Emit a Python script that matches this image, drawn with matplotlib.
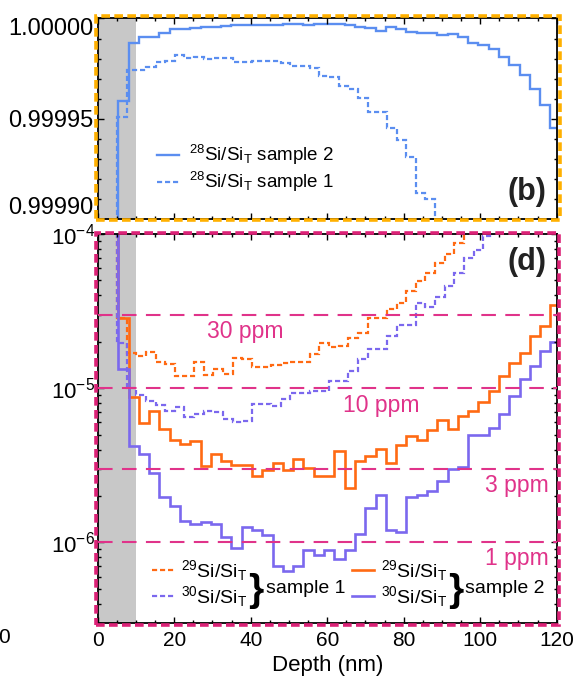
import numpy as np
import matplotlib
matplotlib.use("Agg")
import matplotlib.pyplot as plt
import matplotlib.ticker as mticker
from matplotlib.patches import Rectangle

plt.rcParams['font.family'] = ['Liberation Sans', 'DejaVu Sans']
plt.rcParams['mathtext.fontset'] = 'custom'
plt.rcParams['mathtext.rm'] = 'Liberation Sans'
plt.rcParams['mathtext.it'] = 'Liberation Sans:italic'
plt.rcParams['mathtext.bf'] = 'Liberation Sans:bold'

# depth bin widths of the two profiles (nm)
BIN_S1 = 2.52
BIN_S2 = 2.69
SURFACE_END = 10  # nm, surface transient region

# 28Si fraction (panel b)
si28_s2 = [0.99980, 0.99980, 0.999959, 0.9999877, 0.9999906, 0.9999906, 0.9999929,
           0.9999946, 0.9999946, 0.999995, 0.9999956, 0.9999958, 0.999996, 0.9999965,
           0.9999966, 0.9999968, 0.9999966, 0.9999968, 0.999997, 0.999997, 0.9999968,
           0.999997, 0.999997, 0.9999973, 0.9999968, 0.9999956, 0.9999951, 0.9999939,
           0.9999959, 0.9999946, 0.9999934, 0.9999929, 0.9999926, 0.9999918, 0.9999921,
           0.9999906, 0.999988, 0.9999868, 0.9999847, 0.9999807, 0.9999769, 0.9999719,
           0.9999648, 0.999957, 0.9999454]
si28_s1 = [0.99980, 0.99980, 0.999951, 0.9999745, 0.9999744, 0.999976, 0.9999785,
           0.999979, 0.9999818, 0.9999802, 0.9999808, 0.99998, 0.9999802, 0.9999802,
           0.9999785, 0.9999785, 0.999979, 0.999979, 0.999979, 0.9999777, 0.9999765,
           0.9999765, 0.9999755, 0.9999714, 0.9999707, 0.9999664, 0.9999648, 0.9999603,
           0.9999536, 0.9999536, 0.9999454, 0.9999396, 0.9999312, 0.9999133, 0.99991,
           0.9998, 0.9998, 0.9998, 0.9998, 0.9998, 0.9998, 0.9998, 0.9998, 0.9998,
           0.9998, 0.9998, 0.9998, 0.9998]

# 29Si and 30Si fractions (panel d)
si29_s1 = [2e-4, 2e-4, 2.87e-5, 1.68e-5, 1.62e-5, 1.71e-5, 1.47e-5, 1.43e-5, 1.2e-5,
           1.2e-5, 1.47e-5, 1.22e-5, 1.34e-5, 1.24e-5, 1.58e-5, 1.55e-5, 1.37e-5,
           1.37e-5, 1.41e-5, 1.45e-5, 1.47e-5, 1.47e-5, 1.66e-5, 1.97e-5, 1.85e-5,
           1.88e-5, 2.12e-5, 2.28e-5, 2.87e-5, 2.87e-5, 3.28e-5, 3.57e-5, 4.25e-5,
           4.98e-5, 5.57e-5, 6.47e-5, 7.43e-5, 8.7e-5, 2e-4, 2e-4, 2e-4, 2e-4, 2e-4,
           2e-4, 2e-4, 2e-4, 2e-4, 2e-4]
si30_s1 = [2e-4, 2e-4, 1.97e-5, 1.0e-5, 9.1e-6, 8.3e-6, 7.8e-6, 7.15e-6, 7.5e-6,
           6.5e-6, 6.8e-6, 7.1e-6, 7.0e-6, 6.3e-6, 6.0e-6, 6.1e-6, 7.9e-6, 7.9e-6,
           7.7e-6, 8.5e-6, 9.3e-6, 9.3e-6, 9.6e-6, 9.6e-6, 1.11e-5, 1.11e-5, 1.29e-5,
           1.54e-5, 1.79e-5, 1.79e-5, 2.18e-5, 2.59e-5, 2.59e-5, 3.57e-5, 3.37e-5,
           3.89e-5, 4.62e-5, 5.56e-5, 6.97e-5, 7.88e-5, 9.7e-5, 2e-4, 2e-4, 2e-4,
           2e-4, 2e-4, 2e-4, 2e-4]
si29_s2 = [2e-4, 2e-4, 2.86e-5, 8.8e-6, 5.94e-6, 7.15e-6, 5.43e-6, 4.62e-6, 4.36e-6,
           4.57e-6, 3.13e-6, 3.75e-6, 3.36e-6, 3.2e-6, 3.2e-6, 2.69e-6, 2.93e-6,
           3.27e-6, 2.93e-6, 3.5e-6, 3.03e-6, 2.69e-6, 2.69e-6, 3.94e-6, 2.26e-6,
           3.36e-6, 3.66e-6, 4.04e-6, 3.27e-6, 4.31e-6, 4.92e-6, 4.62e-6, 5.36e-6,
           6.2e-6, 5.45e-6, 6.62e-6, 7.15e-6, 8.1e-6, 9.62e-6, 1.2e-5, 1.45e-5,
           1.7e-5, 2.17e-5, 2.52e-5, 3.46e-5]
si30_s2 = [2e-4, 2e-4, 1.33e-5, 4.25e-6, 3.75e-6, 2.82e-6, 1.97e-6, 1.72e-6, 1.37e-6,
           1.31e-6, 1.36e-6, 1.31e-6, 1.09e-6, 9.25e-7, 1.26e-6, 1.21e-6, 1.11e-6,
           7.03e-7, 6.53e-7, 7.03e-7, 8.9e-7, 8.28e-7, 8.9e-7, 7.76e-7, 8.9e-7,
           1.14e-6, 1.67e-6, 2.04e-6, 1.21e-6, 1.16e-6, 1.97e-6, 2.04e-6, 2.14e-6,
           2.52e-6, 3.0e-6, 3.07e-6, 5.0e-6, 5.0e-6, 5.5e-6, 6.79e-6, 8.91e-6,
           1.14e-5, 1.39e-5, 1.74e-5, 1.99e-5]

ppm_levels = [30, 10, 3, 1]
ppm_labels = ["30 ppm", "10 ppm", "3 ppm", "1 ppm"]

BLUE = '#5b8ef0'
ORANGE = '#ff6a13'
PURPLE = '#7b68ee'
PINK = '#e0338a'
GRAY = '#c8c8c8'
DASH = (0, (2.3, 1.3))


def edges(vals, width):
    return np.arange(len(vals) + 1) * width


def style_axis(ax):
    for sp in ax.spines.values():
        sp.set_linewidth(1.3)
    ax.tick_params(which='both', direction='in', top=True, right=True, width=1.0)
    ax.tick_params(which='major', length=4.5)
    ax.tick_params(which='minor', length=2.5)
    ax.xaxis.set_major_locator(mticker.MultipleLocator(20))
    ax.xaxis.set_minor_locator(mticker.MultipleLocator(5))
    ax.set_xlim(0, 120)
    ax.axvspan(0, SURFACE_END, color=GRAY, lw=0, zorder=0)


fig = plt.figure(figsize=(5.75, 6.78), dpi=100)
ax1 = fig.add_axes([0.1699, 0.6763, 0.7983, 0.2965])
ax2 = fig.add_axes([0.1699, 0.0811, 0.7983, 0.5737])

# ---- panel (b): 28Si
style_axis(ax1)
l28_2 = ax1.stairs(si28_s2, edges(si28_s2, BIN_S2), baseline=None, color=BLUE, lw=1.7,
                   label=r'$\mathregular{^{28}Si/Si_T}$ sample 2')
l28_1 = ax1.stairs(si28_s1, edges(si28_s1, BIN_S1), baseline=None, color=BLUE, lw=1.6,
                   ls=DASH, label=r'$\mathregular{^{28}Si/Si_T}$ sample 1')
ax1.set_ylim(0.99990, 1.00000)
ax1.yaxis.set_major_locator(mticker.FixedLocator([0.99990, 0.99995, 1.00000]))
ax1.yaxis.set_minor_locator(mticker.MultipleLocator(0.00001))
ax1.yaxis.set_major_formatter(mticker.FuncFormatter(lambda y, _: f'{y:.5f}'))
ax1.tick_params(axis='y', labelsize=17, pad=3)
ax1.tick_params(axis='x', labelbottom=False)
ylabs = ax1.get_yticklabels()
ylabs[0].set_va('bottom')
ylabs[-1].set_va('top')
ax1.legend(handles=[l28_2, l28_1], loc='center left', bbox_to_anchor=(0.1285, 0.2528),
           frameon=False, fontsize=13.5, handlelength=1.2, handletextpad=0.55,
           labelspacing=0.15, borderpad=0, borderaxespad=0)
ax1.text(0.978, 0.137, '(b)', transform=ax1.transAxes, ha='right', va='center',
         fontsize=22, fontweight='bold', color='#222222')

# ---- panel (d): 29Si and 30Si
style_axis(ax2)
ax2.set_yscale('log')
ax2.set_ylim(3e-7, 1e-4)
for lvl in ppm_levels:
    ax2.axhline(lvl * 1e-6, color=PINK, lw=1.5, ls=(0, (7, 4.5)), zorder=3)

d29_1 = ax2.stairs(si29_s1, edges(si29_s1, BIN_S1), baseline=None, color=ORANGE,
                   lw=1.6, ls=DASH, label=r'$\mathregular{^{29}Si/Si_T}$')
d30_1 = ax2.stairs(si30_s1, edges(si30_s1, BIN_S1), baseline=None, color=PURPLE,
                   lw=1.6, ls=DASH, label=r'$\mathregular{^{30}Si/Si_T}$')
d29_2 = ax2.stairs(si29_s2, edges(si29_s2, BIN_S2), baseline=None, color=ORANGE,
                   lw=1.9, label=r'$\mathregular{^{29}Si/Si_T}$')
d30_2 = ax2.stairs(si30_s2, edges(si30_s2, BIN_S2), baseline=None, color=PURPLE,
                   lw=1.9, label=r'$\mathregular{^{30}Si/Si_T}$')

ax2.yaxis.set_major_locator(mticker.LogLocator(base=10))
ax2.yaxis.set_minor_locator(mticker.LogLocator(base=10, subs=np.arange(2, 10)))
ax2.yaxis.set_major_formatter(mticker.LogFormatterMathtext())
ax2.yaxis.set_minor_formatter(mticker.NullFormatter())
ax2.tick_params(axis='y', labelsize=16, pad=2)
ax2.tick_params(axis='x', labelsize=15, pad=6)
ax2.set_xlabel('Depth (nm)', fontsize=16, labelpad=3)

# ppm annotations
ax2.text(38.5, 2.34e-5, ppm_labels[0], color=PINK, fontsize=16.5, ha='center', va='center')
ax2.text(74.2, 7.7e-6, ppm_labels[1], color=PINK, fontsize=16.5, ha='center', va='center')
ax2.text(117.8, 2.34e-6, ppm_labels[2], color=PINK, fontsize=16.5, ha='right', va='center')
ax2.text(117.8, 7.9e-7, ppm_labels[3], color=PINK, fontsize=16.5, ha='right', va='center')

# grouped legends with braces
leg_kw = dict(loc='center left', frameon=False, fontsize=14, handlelength=1.15,
              handletextpad=0.35, labelspacing=0.08, borderpad=0, borderaxespad=0)
leg1 = ax2.legend(handles=[d29_1, d30_1], bbox_to_anchor=(0.1176, 0.1019), **leg_kw)
ax2.add_artist(leg1)
ax2.legend(handles=[d29_2, d30_2], bbox_to_anchor=(0.5534, 0.1019), **leg_kw)
for bx, tx, txt in [(0.345, 0.3665, 'sample 1'), (0.781, 0.7995, 'sample 2')]:
    ax2.text(bx, 0.0835, '}', transform=ax2.transAxes, ha='center', va='center',
             fontsize=28, fontweight='bold')
    ax2.text(tx, 0.0892, txt, transform=ax2.transAxes, ha='left', va='center',
             fontsize=14)
ax2.text(0.978, 0.929, '(d)', transform=ax2.transAxes, ha='right', va='center',
         fontsize=22, fontweight='bold', color='#222222')

# coloured dashed frames around the panels
fig.add_artist(Rectangle((0.1670, 0.6748), 0.8069, 0.3023, transform=fig.transFigure,
                         fill=False, ec='#ffb000', lw=2.6, ls=(0, (2.4, 1.2)), zorder=5))
fig.add_artist(Rectangle((0.1670, 0.0782), 0.8060, 0.5781, transform=fig.transFigure,
                         fill=False, ec='#dc2277', lw=2.6, ls=(0, (2.4, 1.2)), zorder=5))

fig.text(0.018, 0.059, '0', ha='right', va='center', fontsize=15)

fig.savefig('out.png', dpi=100)
